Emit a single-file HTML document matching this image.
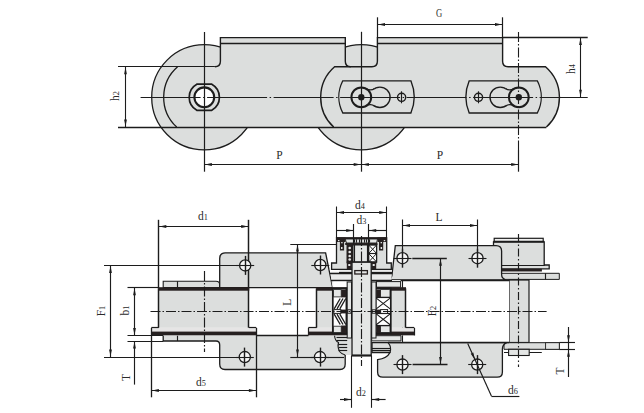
<!DOCTYPE html>
<html><head><meta charset="utf-8"><style>
html,body{margin:0;padding:0;background:#fff;}
svg{display:block;}
</style></head><body>
<svg width="644" height="413" viewBox="0 0 644 413">
<rect width="644" height="413" fill="#fff"/>
<circle cx="204.3" cy="97.3" r="52.6" fill="#dcdedd" stroke="#1c1c1c" stroke-width="1.3"/>
<circle cx="361.3" cy="97.3" r="52.6" fill="#dcdedd" stroke="#1c1c1c" stroke-width="1.3"/>
<path d="M177.6,66.7 H214.9 Q220.4,66.7 220.4,61.2 V37.6 H345.3 V66.7 H401 V127.1 H176.7 A40.6,40.6 0 0 1 177.6,66.7 Z" fill="#dcdedd" stroke="none" stroke-width="1.2" />
<path d="M334.6,66.7 H371.9 Q377.4,66.7 377.4,61.2 V37.6 H502.6 V61.2 Q502.6,66.7 508.1,66.7 H545.5 A40.6,40.6 0 0 1 546.4,127.1 H333.7 A40.6,40.6 0 0 1 334.6,66.7 Z" fill="#dcdedd" stroke="none" stroke-width="1.2" />
<path d="M177.6,66.7 A40.6,40.6 0 0 0 176.7,127.1" fill="none" stroke="#1c1c1c" stroke-width="1.3" />
<path d="M214.9,66.7 Q220.4,66.7 220.4,61.2 V37.6 H345.3 V61.2 Q345.3,66.7 350.8,66.7" fill="none" stroke="#1c1c1c" stroke-width="1.4" />
<path d="M333.7,127.1 A40.6,40.6 0 0 1 334.6,66.7 H371.9 Q377.4,66.7 377.4,61.2 V37.6 H502.6 V61.2 Q502.6,66.7 508.1,66.7 H545.5 A40.6,40.6 0 0 1 546.4,127.1" fill="none" stroke="#1c1c1c" stroke-width="1.4" />
<line x1="220.4" y1="43.5" x2="345.3" y2="43.5" stroke="#1c1c1c" stroke-width="1.3"/>
<line x1="377.4" y1="43.5" x2="502.6" y2="43.5" stroke="#1c1c1c" stroke-width="1.3"/>
<line x1="118" y1="66.5" x2="214.9" y2="66.5" stroke="#1c1c1c" stroke-width="1.2"/>
<line x1="118" y1="127.5" x2="546.3739007033824" y2="127.5" stroke="#1c1c1c" stroke-width="1.3"/>
<path d="M196.8,84.2 H211.8 A15,15 0 0 1 211.8,110.3 H196.8 A15,15 0 0 1 196.8,84.2 Z" fill="#dcdedd" stroke="#1c1c1c" stroke-width="1.7" />
<circle cx="204.3" cy="97.3" r="9.9" fill="#ffffff" stroke="#1c1c1c" stroke-width="2.1"/>
<path d="M342.8,80.8 H410.90000000000003 A42,42 0 0 1 410.90000000000003,113.0 H342.8 A35,35 0 0 1 342.8,80.8 Z" fill="#dcdedd" stroke="#1c1c1c" stroke-width="1.35" />
<circle cx="379.90000000000003" cy="97.3" r="10.2" fill="#dcdedd" stroke="#1c1c1c" stroke-width="1.4"/>
<path d="M366.2,88.7 Q370.6,91.3 374.8,88.5 L374.8,106.1 Q370.6,103.3 366.2,105.9 Z" fill="#dcdedd" stroke="none" stroke-width="1.2" />
<path d="M366.2,88.7 Q370.6,91.3 374.8,88.5" fill="none" stroke="#1c1c1c" stroke-width="1.3" />
<path d="M366.2,105.9 Q370.6,103.3 374.8,106.1" fill="none" stroke="#1c1c1c" stroke-width="1.3" />
<circle cx="361.3" cy="97.3" r="9.9" fill="#dcdedd" stroke="#1c1c1c" stroke-width="2.0"/>
<circle cx="361.3" cy="97.3" r="3.2" fill="#1c1c1c"/>
<circle cx="401.6" cy="97.3" r="4.1" fill="#dcdedd" stroke="#1c1c1c" stroke-width="1.4"/>
<line x1="401.5" y1="91.3" x2="401.5" y2="103.3" stroke="#1c1c1c" stroke-width="1.15"/>
<path d="M469.19999999999993,80.8 H537.3 A35,35 0 0 1 537.3,113.0 H469.19999999999993 A42,42 0 0 1 469.19999999999993,80.8 Z" fill="#dcdedd" stroke="#1c1c1c" stroke-width="1.35" />
<circle cx="500.19999999999993" cy="97.3" r="10.2" fill="#dcdedd" stroke="#1c1c1c" stroke-width="1.4"/>
<path d="M513.8,88.7 Q509.5,91.3 505.3,88.5 L505.3,106.1 Q509.5,103.3 513.8,105.9 Z" fill="#dcdedd" stroke="none" stroke-width="1.2" />
<path d="M513.8,88.7 Q509.5,91.3 505.3,88.5" fill="none" stroke="#1c1c1c" stroke-width="1.3" />
<path d="M513.8,105.9 Q509.5,103.3 505.3,106.1" fill="none" stroke="#1c1c1c" stroke-width="1.3" />
<circle cx="518.8" cy="97.3" r="9.9" fill="#dcdedd" stroke="#1c1c1c" stroke-width="2.0"/>
<circle cx="518.8" cy="97.3" r="3.2" fill="#1c1c1c"/>
<circle cx="478.49999999999994" cy="97.3" r="4.1" fill="#dcdedd" stroke="#1c1c1c" stroke-width="1.4"/>
<line x1="478.5" y1="91.3" x2="478.5" y2="103.3" stroke="#1c1c1c" stroke-width="1.15"/>
<line x1="140.6" y1="97.5" x2="587.7" y2="97.5" stroke="#1c1c1c" stroke-width="1.15" stroke-dasharray="60 2.5 1.5 2.5"/>
<line x1="204.5" y1="32" x2="204.5" y2="171.7" stroke="#1c1c1c" stroke-width="1.2"/>
<line x1="361.5" y1="31.8" x2="361.5" y2="171.7" stroke="#1c1c1c" stroke-width="1.2"/>
<line x1="518.5" y1="32" x2="518.5" y2="150" stroke="#1c1c1c" stroke-width="1.1" stroke-dasharray="10 2 1.5 2"/>
<line x1="518.5" y1="150" x2="518.5" y2="171.7" stroke="#1c1c1c" stroke-width="1.2"/>
<line x1="204.3" y1="164.5" x2="518.8" y2="164.5" stroke="#1c1c1c" stroke-width="1.1"/>
<polygon points="204.9,164.5 211.9,163.1 211.9,165.9" fill="#1c1c1c"/>
<polygon points="360.7,164.5 353.7,163.1 353.7,165.9" fill="#1c1c1c"/>
<polygon points="361.9,164.5 368.9,163.1 368.9,165.9" fill="#1c1c1c"/>
<polygon points="518.2,164.5 511.2,163.1 511.2,165.9" fill="#1c1c1c"/>
<text transform="translate(279.4,158.5) scale(1.0,1)" text-anchor="middle" font-family="Liberation Serif" font-size="11.5" fill="#2a2a2a">P</text>
<text transform="translate(440,158.5) scale(1.0,1)" text-anchor="middle" font-family="Liberation Serif" font-size="11.5" fill="#2a2a2a">P</text>
<line x1="125.5" y1="66.7" x2="125.5" y2="127.1" stroke="#1c1c1c" stroke-width="1.1"/>
<polygon points="125.5,67.2 124.1,74.2 126.9,74.2" fill="#1c1c1c"/>
<polygon points="125.5,126.6 124.1,119.6 126.9,119.6" fill="#1c1c1c"/>
<text transform="translate(119,96) rotate(-90) scale(1.0,1)" text-anchor="middle" font-family="Liberation Serif" font-size="11.5" fill="#2a2a2a">h<tspan font-size="8.3">2</tspan></text>
<line x1="377.5" y1="17.3" x2="377.5" y2="37.6" stroke="#1c1c1c" stroke-width="1.2"/>
<line x1="502.5" y1="17.3" x2="502.5" y2="37.6" stroke="#1c1c1c" stroke-width="1.2"/>
<line x1="377.4" y1="24.5" x2="502.6" y2="24.5" stroke="#1c1c1c" stroke-width="1.1"/>
<polygon points="378.0,24.5 385.0,23.1 385.0,25.9" fill="#1c1c1c"/>
<polygon points="502.0,24.5 495.0,23.1 495.0,25.9" fill="#1c1c1c"/>
<text transform="translate(439,16.6) scale(0.75,1)" text-anchor="middle" font-family="Liberation Serif" font-size="11.5" fill="#2a2a2a">G</text>
<line x1="502.6" y1="37.5" x2="587.7" y2="37.5" stroke="#1c1c1c" stroke-width="1.3"/>
<line x1="580.5" y1="37.6" x2="580.5" y2="97.3" stroke="#1c1c1c" stroke-width="1.1"/>
<polygon points="580.5,38.1 579.1,45.1 581.9,45.1" fill="#1c1c1c"/>
<polygon points="580.5,96.8 579.1,89.8 581.9,89.8" fill="#1c1c1c"/>
<text transform="translate(575.4,69) rotate(-90) scale(1.0,1)" text-anchor="middle" font-family="Liberation Serif" font-size="11.5" fill="#2a2a2a">h<tspan font-size="8.3">4</tspan></text>
<path d="M493.5,241.9 H544.2 V265 H549.2 V268.8 H493.5 Z" fill="#dcdedd" stroke="#1c1c1c" stroke-width="1.3" />
<rect x="494.2" y="238.3" width="49" height="3.6" fill="#f0f0f0" stroke="#1c1c1c" stroke-width="1.2"/>
<line x1="493.5" y1="241.5" x2="544.2" y2="241.5" stroke="#1c1c1c" stroke-width="1.5"/>
<line x1="493.9" y1="265.5" x2="544.8" y2="265.5" stroke="#1c1c1c" stroke-width="1.15"/>
<rect x="493.9" y="268.8" width="48" height="2.7" fill="#262020" stroke="none" stroke-width="1.0"/>
<path d="M493.9,273.3 H559.3 V279.4 H493.9 Z" fill="#dcdedd" stroke="#1c1c1c" stroke-width="1.0" />
<line x1="545.5" y1="273.3" x2="545.5" y2="279.4" stroke="#1c1c1c" stroke-width="1.15"/>
<rect x="509.2" y="280" width="19.8" height="62.5" fill="#dcdedd" stroke="#1c1c1c" stroke-width="1.2"/>
<path d="M504,342.7 H559.3 V349.3 H504 Z" fill="#dcdedd" stroke="#1c1c1c" stroke-width="1.0" />
<rect x="545.6" y="342.7" width="13.7" height="6.6" fill="#e4e6e5" stroke="#1c1c1c" stroke-width="0.9"/>
<line x1="504" y1="352.5" x2="541.8" y2="352.5" stroke="#1c1c1c" stroke-width="1.15"/>
<rect x="508.6" y="349.3" width="20.6" height="6.2" fill="#e4e6e5" stroke="#1c1c1c" stroke-width="1.1"/>
<line x1="559.3" y1="342.5" x2="575" y2="342.5" stroke="#1c1c1c" stroke-width="1.15"/>
<line x1="559.3" y1="349.5" x2="575" y2="349.5" stroke="#1c1c1c" stroke-width="1.15"/>
<path d="M163.2,287.6 V281.2 H216 Q219.7,281.2 219.7,285 V287.6 Z" fill="#dcdedd" stroke="#1c1c1c" stroke-width="1.1" />
<line x1="177.5" y1="281.2" x2="177.5" y2="287.6" stroke="#1c1c1c" stroke-width="1.15"/>
<path d="M219.7,287.6 V258.4 Q219.7,252.8 225.3,252.8 H325.6 L332.6,287.6 Z" fill="#dcdedd" stroke="#1c1c1c" stroke-width="1.3" />
<path d="M163.2,335.5 V341 H216 Q219.7,341 219.7,345 V364 Q219.7,369.5 225,369.5 H340 Q345.2,369.5 345.2,364 V355 H351.5 V335.5 Z" fill="#dcdedd" stroke="none" stroke-width="1.2" />
<path d="M163.2,335.5 V341 H216 Q219.7,341 219.7,345 V364 Q219.7,369.5 225,369.5 H340 Q345.2,369.5 345.2,364 V355" fill="none" stroke="#1c1c1c" stroke-width="1.3" />
<line x1="256.2" y1="335.5" x2="308.4" y2="335.5" stroke="#1c1c1c" stroke-width="1.3"/>
<path d="M334.5,335.5 Q335,341 338.5,342.5 Q337.2,347 339.5,351.5 Q342,354.5 345.2,355" fill="none" stroke="#1c1c1c" stroke-width="1.1" />
<line x1="336.5" y1="337.5" x2="347.2" y2="337.5" stroke="#1c1c1c" stroke-width="1.15"/>
<line x1="336.5" y1="340.5" x2="347.2" y2="340.5" stroke="#1c1c1c" stroke-width="1.15"/>
<line x1="338.5" y1="344.5" x2="347.2" y2="344.5" stroke="#1c1c1c" stroke-width="1.15"/>
<line x1="338.5" y1="347.5" x2="347.2" y2="347.5" stroke="#1c1c1c" stroke-width="1.15"/>
<line x1="338.5" y1="350.5" x2="347.2" y2="350.5" stroke="#1c1c1c" stroke-width="1.15"/>
<line x1="177.5" y1="335.5" x2="177.5" y2="341" stroke="#1c1c1c" stroke-width="1.15"/>
<rect x="158.8" y="288.4" width="89.9" height="39.4" fill="#dcdedd" stroke="none" stroke-width="1.0"/>
<line x1="158.5" y1="288.4" x2="158.5" y2="327.8" stroke="#1c1c1c" stroke-width="1.5"/>
<line x1="248.5" y1="219.8" x2="248.5" y2="327.8" stroke="#1c1c1c" stroke-width="1.5"/>
<rect x="151.4" y="327.8" width="104.8" height="7.6" fill="#e6e5e5" stroke="none" stroke-width="1.0"/>
<line x1="151.4" y1="327.5" x2="158.8" y2="327.5" stroke="#1c1c1c" stroke-width="1.2"/>
<line x1="248.7" y1="327.5" x2="256.2" y2="327.5" stroke="#1c1c1c" stroke-width="1.2"/>
<rect x="151.4" y="331.6" width="104.8" height="3.7" fill="#262020" stroke="none" stroke-width="1.0"/>
<rect x="158.3" y="287.2" width="90.9" height="3.5" fill="#262020" stroke="none" stroke-width="1.0"/>
<line x1="151.5" y1="327.8" x2="151.5" y2="397.3" stroke="#1c1c1c" stroke-width="1.3"/>
<line x1="256.5" y1="327.8" x2="256.5" y2="397.3" stroke="#1c1c1c" stroke-width="1.3"/>
<line x1="248.7" y1="287.5" x2="332.6" y2="287.5" stroke="#1c1c1c" stroke-width="1.2"/>
<path d="M390,280 L391.9,275.8 L395.3,245.6 H496.1 Q501.6,245.6 501.6,251 V274.5 Q501.6,278.5 506,280 Z" fill="#dcdedd" stroke="#1c1c1c" stroke-width="1.3" />
<path d="M372,342.6 H506.7 Q502.4,344.5 502.4,349 V372 Q502.4,377.2 497.2,377.2 H382.8 Q377.6,377.2 377.6,372 V359.6 Q387,358.5 390,352.5 H372 Z" fill="#dcdedd" stroke="#1c1c1c" stroke-width="1.3" />
<path d="M388,342.6 Q392,347 390,352.5" fill="none" stroke="#1c1c1c" stroke-width="1.1" />
<line x1="372" y1="348.5" x2="390.5" y2="348.5" stroke="#1c1c1c" stroke-width="1.15"/>
<line x1="372" y1="350.5" x2="390.5" y2="350.5" stroke="#1c1c1c" stroke-width="1.15"/>
<rect x="402.2" y="280.7" width="107" height="61.5" fill="#ffffff" stroke="none" stroke-width="1.0"/>
<line x1="402.5" y1="280.3" x2="402.5" y2="342.3" stroke="#1c1c1c" stroke-width="1.1"/>
<line x1="390" y1="280.5" x2="509.2" y2="280.5" stroke="#1c1c1c" stroke-width="1.4"/>
<line x1="388" y1="342.5" x2="509.2" y2="342.5" stroke="#1c1c1c" stroke-width="1.3"/>
<path d="M329.7,269.3 H392 L391.5,280 H400.6 V288 H332.6 Z" fill="#e9eaea" stroke="none" stroke-width="1.2" />
<rect x="330" y="269.3" width="9.5" height="2.4" fill="#ffffff" stroke="none" stroke-width="1.0"/>
<line x1="339" y1="272.5" x2="352" y2="272.5" stroke="#1c1c1c" stroke-width="1.2"/>
<line x1="371" y1="272.5" x2="392" y2="272.5" stroke="#1c1c1c" stroke-width="1.2"/>
<line x1="330" y1="273.5" x2="392" y2="273.5" stroke="#1c1c1c" stroke-width="1.4"/>
<line x1="331" y1="280.5" x2="392" y2="280.5" stroke="#1c1c1c" stroke-width="1.5"/>
<rect x="376.5" y="281.6" width="24.1" height="5.6" fill="#e4e6e5" stroke="#1c1c1c" stroke-width="1.0"/>
<rect x="333.2" y="281.6" width="13" height="5.6" fill="#ffffff" stroke="none" stroke-width="1.0"/>
<path d="M336.5,238 H386.7 V263 H391.3 V269.3 H331.6 V263 H336.5 Z" fill="#dcdedd" stroke="#1c1c1c" stroke-width="1.3" />
<rect x="336.5" y="237.4" width="50.2" height="1.8" fill="#262020" stroke="none" stroke-width="1.0"/>
<path d="M345.2,239 H377.5 L376.6,243 H346.5 Z" fill="#e4e6e5" stroke="#1c1c1c" stroke-width="0.9" />
<line x1="354.5" y1="239.3" x2="354.5" y2="242.7" stroke="#1c1c1c" stroke-width="1.15"/>
<line x1="356.5" y1="239.3" x2="356.5" y2="242.7" stroke="#1c1c1c" stroke-width="1.15"/>
<line x1="359.5" y1="239.3" x2="359.5" y2="242.7" stroke="#1c1c1c" stroke-width="1.15"/>
<line x1="361.5" y1="239.3" x2="361.5" y2="242.7" stroke="#1c1c1c" stroke-width="1.15"/>
<line x1="364.5" y1="239.3" x2="364.5" y2="242.7" stroke="#1c1c1c" stroke-width="1.15"/>
<line x1="366.5" y1="239.3" x2="366.5" y2="242.7" stroke="#1c1c1c" stroke-width="1.15"/>
<line x1="369.5" y1="239.3" x2="369.5" y2="242.7" stroke="#1c1c1c" stroke-width="1.15"/>
<rect x="345.2" y="243" width="32.3" height="2" fill="#262020" stroke="none" stroke-width="1.0"/>
<path d="M336.4,237.5 H345.5 V242 H344.1 V250.5 H339.9 V242 H336.4 Z" fill="#262020" stroke="none" stroke-width="1.2" />
<rect x="338" y="240" width="1.4" height="1.2" fill="#e4e6e5" stroke="none" stroke-width="1.0"/>
<rect x="341.2" y="242" width="1.4" height="1.3" fill="#e4e6e5" stroke="none" stroke-width="1.0"/>
<rect x="341" y="247" width="1.5" height="2" fill="#e4e6e5" stroke="none" stroke-width="1.0"/>
<path d="M377.6,237.5 H386.7 V242 H383.2 V250.5 H379 V242 H377.6 Z" fill="#262020" stroke="none" stroke-width="1.2" />
<rect x="383.8" y="240" width="1.4" height="1.2" fill="#e4e6e5" stroke="none" stroke-width="1.0"/>
<rect x="380.6" y="242" width="1.4" height="1.3" fill="#e4e6e5" stroke="none" stroke-width="1.0"/>
<rect x="380.6" y="247" width="1.5" height="2" fill="#e4e6e5" stroke="none" stroke-width="1.0"/>
<rect x="346.5" y="245" width="6.5" height="17" fill="#262020" stroke="none" stroke-width="1.0"/>
<circle cx="349.7" cy="248" r="1.3" fill="#e8e8e8" stroke="none" stroke-width="0"/>
<circle cx="349.7" cy="252" r="1.3" fill="#e8e8e8" stroke="none" stroke-width="0"/>
<circle cx="349.7" cy="256" r="1.3" fill="#e8e8e8" stroke="none" stroke-width="0"/>
<circle cx="349.7" cy="259.5" r="1.3" fill="#e8e8e8" stroke="none" stroke-width="0"/>
<rect x="353" y="245" width="15.7" height="17" fill="#e4e6e5" stroke="#1c1c1c" stroke-width="1.0"/>
<line x1="354.5" y1="245" x2="354.5" y2="262" stroke="#1c1c1c" stroke-width="1.15"/>
<line x1="367.5" y1="245" x2="367.5" y2="262" stroke="#1c1c1c" stroke-width="1.15"/>
<rect x="368.7" y="245" width="7.9" height="17" fill="#ffffff" stroke="#1c1c1c" stroke-width="1.3"/>
<path d="M368.7,245 L376.6,253.5 M376.6,245 L368.7,253.5" fill="none" stroke="#1c1c1c" stroke-width="1.0" />
<path d="M368.7,253.5 L376.6,262.0 M376.6,253.5 L368.7,262.0" fill="none" stroke="#1c1c1c" stroke-width="1.0" />
<line x1="368.7" y1="253.5" x2="376.6" y2="253.5" stroke="#1c1c1c" stroke-width="1.15"/>
<line x1="346.5" y1="262.5" x2="376.6" y2="262.5" stroke="#1c1c1c" stroke-width="1.6"/>
<rect x="346.8" y="262" width="5" height="7" fill="#262020" stroke="none" stroke-width="1.0"/>
<rect x="348.3" y="264" width="2" height="2" fill="#e4e6e5" stroke="none" stroke-width="1.0"/>
<rect x="371.2" y="262" width="5" height="7" fill="#262020" stroke="none" stroke-width="1.0"/>
<rect x="372.7" y="264" width="2" height="2" fill="#e4e6e5" stroke="none" stroke-width="1.0"/>
<rect x="316.7" y="288.4" width="88.8" height="39.4" fill="#dcdedd" stroke="none" stroke-width="1.0"/>
<line x1="316.5" y1="288.4" x2="316.5" y2="327.8" stroke="#1c1c1c" stroke-width="1.5"/>
<line x1="405.5" y1="288.4" x2="405.5" y2="327.8" stroke="#1c1c1c" stroke-width="1.5"/>
<rect x="308.4" y="327.8" width="105.8" height="7.6" fill="#e6e5e5" stroke="none" stroke-width="1.0"/>
<line x1="308.4" y1="327.5" x2="316.7" y2="327.5" stroke="#1c1c1c" stroke-width="1.2"/>
<line x1="405.5" y1="327.5" x2="414.2" y2="327.5" stroke="#1c1c1c" stroke-width="1.2"/>
<line x1="308.5" y1="327.8" x2="308.5" y2="335.5" stroke="#1c1c1c" stroke-width="1.2"/>
<line x1="414.5" y1="327.8" x2="414.5" y2="335.5" stroke="#1c1c1c" stroke-width="1.2"/>
<rect x="308.4" y="331.6" width="105.8" height="3.7" fill="#262020" stroke="none" stroke-width="1.0"/>
<rect x="316.2" y="287.2" width="89.8" height="3.5" fill="#262020" stroke="none" stroke-width="1.0"/>
<path d="M371.7,335.7 H401 V340.9 H371.7 Z" fill="#e4e6e5" stroke="#1c1c1c" stroke-width="1.0" />
<rect x="332.8" y="288.4" width="13.6" height="44.6" fill="#ffffff" stroke="#1c1c1c" stroke-width="1.7"/>
<rect x="333.6" y="289.6" width="7.6" height="7.3" fill="#e4e6e5" stroke="#1c1c1c" stroke-width="0.8"/>
<rect x="333.6" y="326.2" width="7.6" height="6.4" fill="#e4e6e5" stroke="#1c1c1c" stroke-width="0.8"/>
<rect x="341.2" y="289.4" width="5" height="8" fill="#262020" stroke="none" stroke-width="1.0"/>
<rect x="341.2" y="325.5" width="5" height="7.5" fill="#262020" stroke="none" stroke-width="1.0"/>
<line x1="340.2" y1="298.5" x2="334.2" y2="308.8" stroke="#1c1c1c" stroke-width="1.3"/>
<line x1="334.2" y1="314.2" x2="340.2" y2="324.5" stroke="#1c1c1c" stroke-width="1.3"/>
<line x1="343.0" y1="298.5" x2="337.0" y2="308.8" stroke="#1c1c1c" stroke-width="1.3"/>
<line x1="337.0" y1="314.2" x2="343.0" y2="324.5" stroke="#1c1c1c" stroke-width="1.3"/>
<line x1="345.8" y1="298.5" x2="339.8" y2="308.8" stroke="#1c1c1c" stroke-width="1.3"/>
<line x1="339.8" y1="314.2" x2="345.8" y2="324.5" stroke="#1c1c1c" stroke-width="1.3"/>
<rect x="341" y="309.6" width="6" height="3.8" fill="#262020" stroke="none" stroke-width="1.0"/>
<rect x="333.8" y="309.6" width="7" height="3.8" fill="#ffffff" stroke="#1c1c1c" stroke-width="1.0"/>
<rect x="375.6" y="288.4" width="15.2" height="44.6" fill="#ffffff" stroke="#1c1c1c" stroke-width="1.7"/>
<rect x="380.6" y="289.6" width="9.4" height="7.6" fill="#e4e6e5" stroke="#1c1c1c" stroke-width="0.8"/>
<rect x="380.6" y="325.8" width="9.4" height="6.6" fill="#e4e6e5" stroke="#1c1c1c" stroke-width="0.8"/>
<rect x="376.2" y="289.4" width="4.4" height="8" fill="#262020" stroke="none" stroke-width="1.0"/>
<rect x="376.2" y="325.2" width="4.4" height="7.8" fill="#262020" stroke="none" stroke-width="1.0"/>
<path d="M375.6,297.6 L390.8,309.40000000000003 M390.8,297.6 L375.6,309.40000000000003" fill="none" stroke="#1c1c1c" stroke-width="1.1" />
<line x1="375.6" y1="297.5" x2="390.8" y2="297.5" stroke="#1c1c1c" stroke-width="1.15"/>
<path d="M375.6,313.4 L390.8,325.2 M390.8,313.4 L375.6,325.2" fill="none" stroke="#1c1c1c" stroke-width="1.1" />
<line x1="375.6" y1="313.5" x2="390.8" y2="313.5" stroke="#1c1c1c" stroke-width="1.15"/>
<line x1="375.6" y1="325.5" x2="390.8" y2="325.5" stroke="#1c1c1c" stroke-width="1.15"/>
<rect x="375.6" y="309.6" width="5" height="3.8" fill="#262020" stroke="none" stroke-width="1.0"/>
<rect x="380.6" y="309.6" width="7" height="3.8" fill="#ffffff" stroke="#1c1c1c" stroke-width="1.0"/>
<rect x="347.2" y="282" width="4.3" height="56" fill="#e4e6e5" stroke="#1c1c1c" stroke-width="1.0"/>
<rect x="371.7" y="282" width="4.3" height="56" fill="#e4e6e5" stroke="#1c1c1c" stroke-width="1.0"/>
<rect x="352" y="262.2" width="19.2" height="93.3" fill="#e4e6e5" stroke="#1c1c1c" stroke-width="1.3"/>
<line x1="352" y1="355.5" x2="371.2" y2="355.5" stroke="#1c1c1c" stroke-width="2.0"/>
<rect x="354.8" y="270.6" width="12.6" height="3.4" fill="#e4e6e5" stroke="#262020" stroke-width="1.3"/>
<rect x="347.6" y="309.8" width="3.4" height="3.4" fill="#ffffff" stroke="#1c1c1c" stroke-width="1.0"/>
<rect x="372.2" y="309.8" width="3.4" height="3.4" fill="#ffffff" stroke="#1c1c1c" stroke-width="1.0"/>
<line x1="351.5" y1="355.5" x2="351.5" y2="407.8" stroke="#1c1c1c" stroke-width="1.1"/>
<line x1="371.5" y1="355.5" x2="371.5" y2="407.8" stroke="#1c1c1c" stroke-width="1.1"/>
<circle cx="245.2" cy="265.4" r="5.6" fill="#f6f6f6" stroke="#1c1c1c" stroke-width="1.3"/>
<line x1="236.2" y1="265.5" x2="254.2" y2="265.5" stroke="#1c1c1c" stroke-width="1.1"/>
<line x1="245.5" y1="255.89999999999998" x2="245.5" y2="274.9" stroke="#1c1c1c" stroke-width="1.4"/>
<circle cx="320.3" cy="265" r="5.6" fill="#f6f6f6" stroke="#1c1c1c" stroke-width="1.3"/>
<line x1="311.3" y1="265.5" x2="329.3" y2="265.5" stroke="#1c1c1c" stroke-width="1.1"/>
<line x1="320.5" y1="255.5" x2="320.5" y2="274.5" stroke="#1c1c1c" stroke-width="1.4"/>
<circle cx="244.8" cy="357.1" r="5.6" fill="#f6f6f6" stroke="#1c1c1c" stroke-width="1.3"/>
<line x1="235.8" y1="357.5" x2="253.8" y2="357.5" stroke="#1c1c1c" stroke-width="1.1"/>
<line x1="244.5" y1="347.6" x2="244.5" y2="366.6" stroke="#1c1c1c" stroke-width="1.4"/>
<circle cx="320" cy="357.1" r="5.6" fill="#f6f6f6" stroke="#1c1c1c" stroke-width="1.3"/>
<line x1="311" y1="357.5" x2="329" y2="357.5" stroke="#1c1c1c" stroke-width="1.1"/>
<line x1="320.5" y1="347.6" x2="320.5" y2="366.6" stroke="#1c1c1c" stroke-width="1.4"/>
<circle cx="402.5" cy="258.2" r="5.6" fill="#f6f6f6" stroke="#1c1c1c" stroke-width="1.3"/>
<line x1="393.5" y1="258.5" x2="411.5" y2="258.5" stroke="#1c1c1c" stroke-width="1.1"/>
<line x1="402.5" y1="248.7" x2="402.5" y2="267.7" stroke="#1c1c1c" stroke-width="1.4"/>
<circle cx="477.5" cy="258.2" r="5.6" fill="#f6f6f6" stroke="#1c1c1c" stroke-width="1.3"/>
<line x1="468.5" y1="258.5" x2="486.5" y2="258.5" stroke="#1c1c1c" stroke-width="1.1"/>
<line x1="477.5" y1="248.7" x2="477.5" y2="267.7" stroke="#1c1c1c" stroke-width="1.4"/>
<circle cx="402.5" cy="364.6" r="5.6" fill="#f6f6f6" stroke="#1c1c1c" stroke-width="1.3"/>
<line x1="393.5" y1="364.5" x2="411.5" y2="364.5" stroke="#1c1c1c" stroke-width="1.1"/>
<line x1="402.5" y1="355.1" x2="402.5" y2="374.1" stroke="#1c1c1c" stroke-width="1.4"/>
<circle cx="477.2" cy="364.6" r="5.6" fill="#f6f6f6" stroke="#1c1c1c" stroke-width="1.3"/>
<line x1="468.2" y1="364.5" x2="486.2" y2="364.5" stroke="#1c1c1c" stroke-width="1.1"/>
<line x1="477.5" y1="355.1" x2="477.5" y2="374.1" stroke="#1c1c1c" stroke-width="1.4"/>
<line x1="150.5" y1="311.5" x2="546.6" y2="311.5" stroke="#1c1c1c" stroke-width="1.15" stroke-dasharray="10 2 1.5 2"/>
<line x1="204.5" y1="271" x2="204.5" y2="352" stroke="#1c1c1c" stroke-width="1.15" stroke-dasharray="10 2 1.5 2"/>
<line x1="361.5" y1="236" x2="361.5" y2="366" stroke="#1c1c1c" stroke-width="1.15" stroke-dasharray="10 2 1.5 2"/>
<line x1="518.5" y1="234" x2="518.5" y2="367" stroke="#1c1c1c" stroke-width="1.15" stroke-dasharray="8 2.5 1.5 2.5"/>
<line x1="158.5" y1="219.8" x2="158.5" y2="288.4" stroke="#1c1c1c" stroke-width="1.4"/>
<line x1="158.8" y1="226.5" x2="248.7" y2="226.5" stroke="#1c1c1c" stroke-width="1.15"/>
<polygon points="159.3,226.5 166.3,225.1 166.3,227.9" fill="#1c1c1c"/>
<polygon points="248.2,226.5 241.2,225.1 241.2,227.9" fill="#1c1c1c"/>
<text transform="translate(203,219.8) scale(1.0,1)" text-anchor="middle" font-family="Liberation Serif" font-size="11.5" fill="#2a2a2a">d<tspan font-size="8.3">1</tspan></text>
<line x1="151.4" y1="390.5" x2="256.4" y2="390.5" stroke="#1c1c1c" stroke-width="1.15"/>
<polygon points="151.9,390.5 158.9,389.1 158.9,391.9" fill="#1c1c1c"/>
<polygon points="255.9,390.5 248.9,389.1 248.9,391.9" fill="#1c1c1c"/>
<text transform="translate(201,385.5) scale(1.0,1)" text-anchor="middle" font-family="Liberation Serif" font-size="11.5" fill="#2a2a2a">d<tspan font-size="8.3">5</tspan></text>
<line x1="104" y1="265.5" x2="237" y2="265.5" stroke="#1c1c1c" stroke-width="1.15"/>
<line x1="104" y1="357.5" x2="236.5" y2="357.5" stroke="#1c1c1c" stroke-width="1.15"/>
<line x1="110.5" y1="265.4" x2="110.5" y2="357" stroke="#1c1c1c" stroke-width="1.15"/>
<polygon points="110.5,265.9 109.1,272.9 111.9,272.9" fill="#1c1c1c"/>
<polygon points="110.5,356.5 109.1,349.5 111.9,349.5" fill="#1c1c1c"/>
<text transform="translate(104.5,311) rotate(-90) scale(1.0,1)" text-anchor="middle" font-family="Liberation Serif" font-size="11.5" fill="#2a2a2a">F<tspan font-size="8.3">1</tspan></text>
<line x1="127.5" y1="287.5" x2="158.8" y2="287.5" stroke="#1c1c1c" stroke-width="1.15"/>
<line x1="127.5" y1="335.5" x2="163.2" y2="335.5" stroke="#1c1c1c" stroke-width="1.15"/>
<line x1="127.5" y1="341.5" x2="163.2" y2="341.5" stroke="#1c1c1c" stroke-width="1.15"/>
<line x1="134.5" y1="287.8" x2="134.5" y2="335.5" stroke="#1c1c1c" stroke-width="1.15"/>
<polygon points="134.5,288.3 133.1,295.3 135.9,295.3" fill="#1c1c1c"/>
<polygon points="134.5,335.0 133.1,328.0 135.9,328.0" fill="#1c1c1c"/>
<line x1="134.5" y1="341" x2="134.5" y2="384.6" stroke="#1c1c1c" stroke-width="1.15"/>
<polygon points="134.5,341.5 133.1,348.5 135.9,348.5" fill="#1c1c1c"/>
<text transform="translate(128.5,310.5) rotate(-90) scale(1.0,1)" text-anchor="middle" font-family="Liberation Serif" font-size="11.5" fill="#2a2a2a">b<tspan font-size="8.3">1</tspan></text>
<text transform="translate(129.5,377.5) rotate(-90) scale(1.0,1)" text-anchor="middle" font-family="Liberation Serif" font-size="11.5" fill="#2a2a2a">T</text>
<line x1="290.3" y1="244.5" x2="336.5" y2="244.5" stroke="#1c1c1c" stroke-width="1.15"/>
<line x1="290.3" y1="357.5" x2="314" y2="357.5" stroke="#1c1c1c" stroke-width="1.15"/>
<line x1="326" y1="357.5" x2="344" y2="357.5" stroke="#1c1c1c" stroke-width="1.15"/>
<line x1="297.5" y1="244" x2="297.5" y2="357" stroke="#1c1c1c" stroke-width="1.15"/>
<polygon points="297.5,244.5 296.1,251.5 298.9,251.5" fill="#1c1c1c"/>
<polygon points="297.5,356.5 296.1,349.5 298.9,349.5" fill="#1c1c1c"/>
<text transform="translate(290.8,302.2) rotate(-90) scale(1.0,1)" text-anchor="middle" font-family="Liberation Serif" font-size="11.5" fill="#2a2a2a">L</text>
<line x1="336.5" y1="206.5" x2="336.5" y2="238" stroke="#1c1c1c" stroke-width="1.1"/>
<line x1="386.5" y1="206.5" x2="386.5" y2="238" stroke="#1c1c1c" stroke-width="1.1"/>
<line x1="336.5" y1="212.5" x2="386.7" y2="212.5" stroke="#1c1c1c" stroke-width="1.15"/>
<polygon points="337.0,212.5 344.0,211.1 344.0,213.9" fill="#1c1c1c"/>
<polygon points="386.2,212.5 379.2,211.1 379.2,213.9" fill="#1c1c1c"/>
<text transform="translate(360,208.5) scale(1.0,1)" text-anchor="middle" font-family="Liberation Serif" font-size="11.5" fill="#2a2a2a">d<tspan font-size="8.3">4</tspan></text>
<line x1="353.5" y1="224" x2="353.5" y2="244" stroke="#1c1c1c" stroke-width="1.15"/>
<line x1="368.5" y1="224" x2="368.5" y2="244" stroke="#1c1c1c" stroke-width="1.15"/>
<line x1="336.5" y1="230.5" x2="353.7" y2="230.5" stroke="#1c1c1c" stroke-width="1.15"/>
<line x1="368.7" y1="230.5" x2="386.7" y2="230.5" stroke="#1c1c1c" stroke-width="1.15"/>
<polygon points="353.2,230.5 346.2,229.1 346.2,231.9" fill="#1c1c1c"/>
<polygon points="369.2,230.5 376.2,229.1 376.2,231.9" fill="#1c1c1c"/>
<text transform="translate(361.5,224.3) scale(1.0,1)" text-anchor="middle" font-family="Liberation Serif" font-size="11.5" fill="#2a2a2a">d<tspan font-size="8.3">3</tspan></text>
<line x1="402.5" y1="219.5" x2="402.5" y2="252" stroke="#1c1c1c" stroke-width="1.15"/>
<line x1="477.5" y1="219.5" x2="477.5" y2="252" stroke="#1c1c1c" stroke-width="1.15"/>
<line x1="402.5" y1="225.5" x2="477.5" y2="225.5" stroke="#1c1c1c" stroke-width="1.15"/>
<polygon points="403.0,225.5 410.0,224.1 410.0,226.9" fill="#1c1c1c"/>
<polygon points="477.0,225.5 470.0,224.1 470.0,226.9" fill="#1c1c1c"/>
<text transform="translate(439,221) scale(1.0,1)" text-anchor="middle" font-family="Liberation Serif" font-size="11.5" fill="#2a2a2a">L</text>
<line x1="412.3" y1="258.5" x2="446.8" y2="258.5" stroke="#1c1c1c" stroke-width="1.3"/>
<line x1="412.6" y1="364.5" x2="447.5" y2="364.5" stroke="#1c1c1c" stroke-width="1.3"/>
<line x1="440.5" y1="258.2" x2="440.5" y2="364.6" stroke="#1c1c1c" stroke-width="1.15"/>
<polygon points="440.5,258.7 439.1,265.7 441.9,265.7" fill="#1c1c1c"/>
<polygon points="440.5,364.1 439.1,357.1 441.9,357.1" fill="#1c1c1c"/>
<text transform="translate(436,311) rotate(-90) scale(1.0,1)" text-anchor="middle" font-family="Liberation Serif" font-size="11.5" fill="#2a2a2a">F<tspan font-size="8.3">2</tspan></text>
<line x1="467.7" y1="343.5" x2="491.4" y2="396" stroke="#1c1c1c" stroke-width="1.15"/>
<line x1="491.4" y1="396.5" x2="519.4" y2="396.5" stroke="#1c1c1c" stroke-width="1.15"/>
<polygon points="474.9,359.5 473.3,352.5 470.7,353.7" fill="#1c1c1c"/>
<text transform="translate(513,393.5) scale(1.0,1)" text-anchor="middle" font-family="Liberation Serif" font-size="11.5" fill="#2a2a2a">d<tspan font-size="8.3">6</tspan></text>
<line x1="340" y1="399.5" x2="351.5" y2="399.5" stroke="#1c1c1c" stroke-width="1.15"/>
<line x1="371.7" y1="399.5" x2="385.6" y2="399.5" stroke="#1c1c1c" stroke-width="1.15"/>
<polygon points="351.0,399.5 344.0,398.1 344.0,400.9" fill="#1c1c1c"/>
<polygon points="372.2,399.5 379.2,398.1 379.2,400.9" fill="#1c1c1c"/>
<text transform="translate(361,396) scale(1.0,1)" text-anchor="middle" font-family="Liberation Serif" font-size="11.5" fill="#2a2a2a">d<tspan font-size="8.3">2</tspan></text>
<line x1="568.5" y1="327" x2="568.5" y2="377" stroke="#1c1c1c" stroke-width="1.15"/>
<polygon points="568.5,342.2 567.1,335.2 569.9,335.2" fill="#1c1c1c"/>
<polygon points="568.5,349.8 567.1,356.8 569.9,356.8" fill="#1c1c1c"/>
<text transform="translate(563.5,371) rotate(-90) scale(1.0,1)" text-anchor="middle" font-family="Liberation Serif" font-size="11.5" fill="#2a2a2a">T</text>
</svg>
</body></html>
